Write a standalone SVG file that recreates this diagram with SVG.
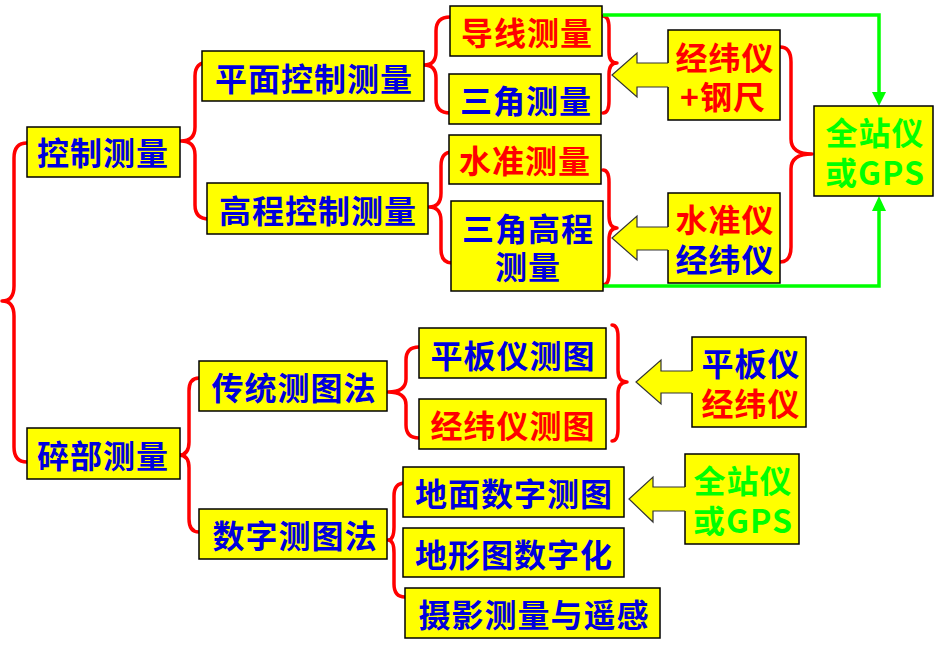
<svg xmlns="http://www.w3.org/2000/svg" width="950" height="654" viewBox="0 0 950 654">
<style>
.box{fill:#FFFF00;stroke:#000;stroke-width:1.5}
.t{font-family:"Noto Sans CJK SC","Noto Sans",sans-serif;font-weight:bold;font-size:32px;letter-spacing:1px;text-anchor:middle}
.b{fill:#0000DD}
.r{fill:#FF0000}
.g{fill:#00FF00}
.brace{fill:none;stroke:#FF0000;stroke-width:3.5;stroke-linecap:round;stroke-linejoin:round}
.gl{fill:none;stroke:#00FF00;stroke-width:3.5}
.ah{fill:#00FF00}
.arf{fill:#FFFF00;stroke:none}
.arl{fill:none;stroke:#333;stroke-width:1.2}
</style>
<rect width="950" height="654" fill="#fff"/>

<g id="connectors">
  <!-- braces -->
  <path class="brace" d="M27 143 Q14 143 14 158 L14 286 Q14 301 2 301 Q14 301 14 316 L14 447 Q14 462 27 462"/>
  <path class="brace" d="M209 62 Q195 62 195 76 L195 127 Q195 141 181 141 Q195 141 195 155 L195 205 Q195 219 209 219"/>
  <path class="brace" d="M450 17 Q436 17 436 31 L436 52 Q436 65 424 65 Q436 65 436 78 L436 99 Q436 113 450 113"/>
  <path class="brace" d="M452 152 Q441 152 441 166 L441 193 Q441 207 429 207 Q441 207 441 221 L441 249 Q441 263 452 263"/>
  <path class="brace" d="M603 16 Q609 16 609 28 L609 52 Q609 63 617 63 Q609 63 609 74 L609 101 Q609 113 603 113"/>
  <path class="brace" d="M603 170 Q609 170 609 182 L609 216 Q609 228 617 228 Q609 228 609 240 L609 273 Q609 285 603 285"/>
  <path class="brace" d="M780 47 Q791 47 791 62 L791 139 Q791 154 812 154 Q791 154 791 169 L791 247 Q791 262 780 262"/>
  <path class="brace" d="M199 378 Q189 378 189 391 L189 442 Q189 455 179 455 Q189 455 189 468 L189 519 Q189 532 199 532"/>
  <path class="brace" d="M419 347 Q406 347 406 360 L406 379 Q406 392 388 392 Q406 392 406 405 L406 425 Q406 438 419 438"/>
  <path class="brace" d="M612 325 Q618 325 618 337 L618 370 Q618 382 627 382 Q618 382 618 394 L618 429 Q618 441 612 441"/>
  <path class="brace" d="M405 483 Q394 483 394 496 L394 527 Q394 540 388 540 Q394 540 394 553 L394 584 Q394 597 405 597"/>
  <!-- green arrows -->
  <path class="gl" d="M603 15 H879 V93"/>
  <polygon class="ah" points="872,92 886,92 879,106"/>
  <path class="gl" d="M603 286 H879 V210"/>
  <polygon class="ah" points="872,211 886,211 879,196"/>
</g>

<g id="n-kongzhi"><rect class="box" x="27" y="127" width="153" height="50"/><text class="t b" x="103" y="165">控制测量</text></g>
<g id="n-pingmian"><rect class="box" x="202" y="51" width="222" height="50"/><text class="t b" x="314" y="91">平面控制测量</text></g>
<g id="n-gaocheng"><rect class="box" x="207" y="183" width="221" height="51"/><text class="t b" x="318" y="223">高程控制测量</text></g>
<g id="n-daoxian"><rect class="box" x="450" y="6" width="152" height="50"/><text class="t r" x="527" y="45">导线测量</text></g>
<g id="n-sanjiao"><rect class="box" x="449" y="74" width="152" height="50"/><text class="t b" x="526" y="113">三角测量</text></g>
<g id="n-shuizhun"><rect class="box" x="449" y="135" width="152" height="49"/><text class="t r" x="525" y="173">水准测量</text></g>
<g id="n-sanjiaogc"><rect class="box" x="451" y="201" width="152" height="90"/><text class="t b" x="528" y="241">三角高程</text><text class="t b" x="528" y="279">测量</text></g>

<g id="n-jingwei-gangchi">
  <rect class="box" x="668" y="30" width="112" height="90"/>
  <polygon class="arf" points="670,63 637,63 637,53 612,75 637,97 637,87 670,87"/>
  <polyline class="arl" points="668,63 637,63 637,53 612,75 637,97 637,87 668,87"/>
  <text class="t r" x="725" y="70">经纬仪</text><text class="t r" x="723" y="109">+钢尺</text>
</g>
<g id="n-shuizhunyi">
  <rect class="box" x="668" y="193" width="112" height="90"/>
  <polygon class="arf" points="670,227 637,227 637,216 612,238 637,260 637,250 670,250"/>
  <polyline class="arl" points="668,227 637,227 637,216 612,238 637,260 637,250 668,250"/>
  <text class="t r" x="725" y="232">水准仪</text><text class="t b" x="725" y="272">经纬仪</text>
</g>
<g id="n-quanzhan1"><rect class="box" x="814" y="106" width="119" height="90"/><text class="t g" x="875" y="145">全站仪</text><text class="t g" x="875" y="185">或GPS</text></g>

<g id="n-suibu"><rect class="box" x="27" y="428" width="153" height="51"/><text class="t b" x="103" y="468">碎部测量</text></g>
<g id="n-chuantong"><rect class="box" x="199" y="361" width="188" height="50"/><text class="t b" x="294" y="400">传统测图法</text></g>
<g id="n-shuzi"><rect class="box" x="199" y="509" width="188" height="50"/><text class="t b" x="295" y="548">数字测图法</text></g>
<g id="n-pingbanct"><rect class="box" x="419" y="328" width="187" height="50"/><text class="t b" x="513" y="368">平板仪测图</text></g>
<g id="n-jingweict"><rect class="box" x="419" y="399" width="187" height="50"/><text class="t r" x="513" y="438">经纬仪测图</text></g>
<g id="n-dimian"><rect class="box" x="403" y="467" width="221" height="50"/><text class="t b" x="514" y="506">地面数字测图</text></g>
<g id="n-dixingtu"><rect class="box" x="403" y="528" width="221" height="49"/><text class="t b" x="514" y="567">地形图数字化</text></g>
<g id="n-sheying"><rect class="box" x="405" y="588" width="255" height="50"/><text class="t b" x="534" y="627">摄影测量与遥感</text></g>

<g id="n-pingbanyi">
  <rect class="box" x="692" y="337" width="114" height="90"/>
  <polygon class="arf" points="694,371 661,371 661,360 636,382 661,404 661,393 694,393"/>
  <polyline class="arl" points="692,371 661,371 661,360 636,382 661,404 661,393 692,393"/>
  <text class="t b" x="751" y="376">平板仪</text><text class="t r" x="751" y="416">经纬仪</text>
</g>
<g id="n-quanzhan2">
  <rect class="box" x="685" y="454" width="114" height="90"/>
  <polygon class="arf" points="687,487 653,487 653,477 629,499 653,522 653,511 687,511"/>
  <polyline class="arl" points="685,487 653,487 653,477 629,499 653,522 653,511 685,511"/>
  <text class="t g" x="743" y="493">全站仪</text><text class="t g" x="743" y="533">或GPS</text>
</g>
</svg>
